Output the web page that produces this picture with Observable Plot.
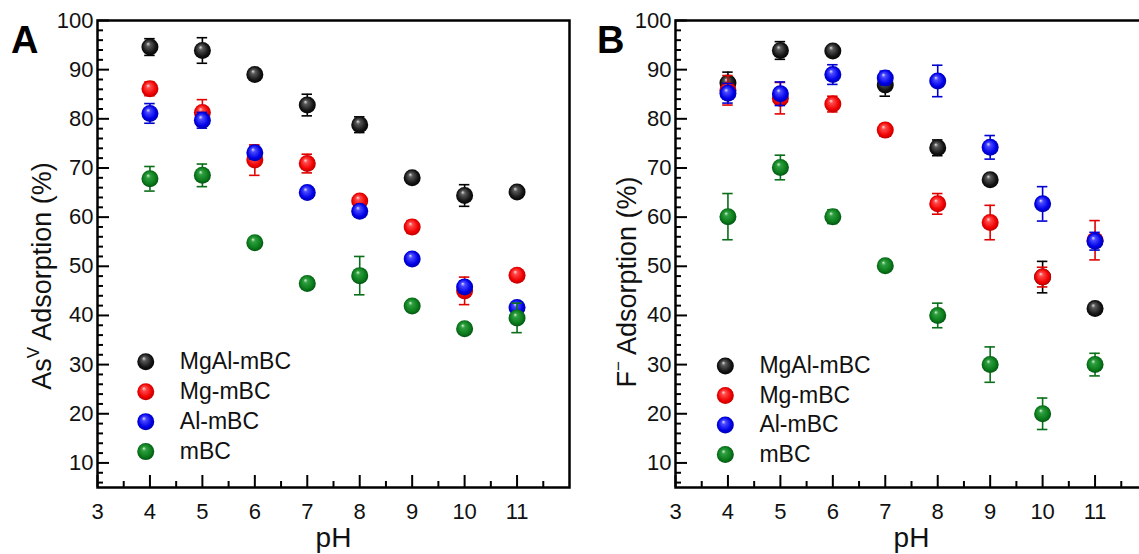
<!DOCTYPE html>
<html><head><meta charset="utf-8">
<script src="https://cdn.jsdelivr.net/npm/d3@7"></script>
<script src="https://cdn.jsdelivr.net/npm/@observablehq/plot@0.6"></script>
<style>
html,body{margin:0;padding:0;background:#fff;overflow:hidden;width:1139px;height:554px}
#wrap{display:flex;flex-wrap:nowrap;width:1139px;height:554px;overflow:hidden}
#wrap>div{flex:none}
svg{display:block}
</style></head><body>
<svg id="defs" width="0" height="0" style="position:absolute"><defs></defs></svg>
<div id="wrap"><div id="a"></div><div id="b"></div></div>
<script>
// ---- data ----
const pH = [4, 5, 6, 7, 8, 9, 10, 11];
const seriesNames = ["MgAl-mBC", "Mg-mBC", "Al-mBC", "mBC"];

// Panel A: As(V) adsorption (%)
const asMgAl    = [94.6, 93.9, 89.0, 82.8, 78.8, 68.0, 64.4, 65.1];
const asMgAlErr = [1.7, 2.6, 0.6, 2.2, 1.6, 0.6, 2.2, 0.5];
const asMg      = [86.1, 81.3, 71.6, 70.9, 63.3, 58.0, 45.0, 48.2];
const asMgErr   = [1.4, 2.6, 3.1, 1.9, 0.6, 1.3, 2.8, 0.6];
const asAl      = [81.1, 79.7, 73.1, 65.0, 61.2, 51.5, 45.8, 41.6];
const asAlErr   = [2.0, 1.6, 1.3, 0.6, 0.8, 0.6, 1.2, 0.6];
const asBC      = [67.8, 68.5, 54.8, 46.5, 48.1, 41.9, 37.3, 39.5];
const asBCErr   = [2.5, 2.3, 0.6, 1.0, 3.9, 0.7, 0.7, 3.0];

// Panel B: F- adsorption (%)
const fMgAl    = [87.3, 93.9, 93.8, 86.9, 74.1, 67.6, 47.8, 41.4];
const fMgAlErr = [2.2, 1.8, 0.6, 2.3, 1.6, 0.8, 3.2, 0.6];
const fMg      = [85.8, 84.2, 83.0, 77.7, 62.7, 58.9, 47.8, 55.3];
const fMgErr   = [3.0, 3.2, 1.6, 1.2, 2.1, 3.5, 2.0, 4.0];
const fAl      = [85.2, 85.1, 89.0, 88.3, 87.7, 74.2, 62.7, 55.1];
const fAlErr   = [2.0, 2.4, 2.0, 1.4, 3.2, 2.4, 3.5, 1.8];
const fBC      = [60.1, 70.1, 60.1, 50.1, 40.0, 30.0, 20.0, 30.0];
const fBCErr   = [4.7, 2.5, 1.4, 0.6, 2.5, 3.6, 3.2, 2.3];

// ticks
const yMajorTicks = [10, 20, 30, 40, 50, 60, 70, 80, 90, 100];
const yMinorTicks = [6, 8, 12, 14, 16, 18, 22, 24, 26, 28, 32, 34, 36, 38, 42, 44, 46, 48, 52, 54, 56, 58, 62, 64, 66, 68, 72, 74, 76, 78, 82, 84, 86, 88, 92, 94, 96, 98];
const xMajorTicks = [3, 4, 5, 6, 7, 8, 9, 10, 11];
const xMinorTicks = [3.5, 4.5, 5.5, 6.5, 7.5, 8.5, 9.5, 10.5, 11.5];

// ---- styles ----
const barColors = ["#000000", "#e00000", "#0000d0", "#0a6e1a"];
const sphereStops = [
  ["#e0e0e0", "#5a5a5a", "#151515", "#000000"],
  ["#ffe0e0", "#ff4a4a", "#f00000", "#b00000"],
  ["#e0e0ff", "#4a4aff", "#0000e8", "#00009a"],
  ["#d8f0d8", "#2fa040", "#0a7a1a", "#004a10"]
];
const FONT = "'Liberation Sans', Arial, Helvetica, sans-serif";

// gradients
const defs = d3.select("#defs defs");
sphereStops.forEach((st, i) => {
  const g = defs.append("radialGradient").attr("id", "sph" + i)
    .attr("cx", "50%").attr("cy", "50%").attr("r", "55%").attr("fx", "38%").attr("fy", "30%");
  [[0, st[0]], [0.22, st[1]], [0.7, st[2]], [1, st[3]]].forEach(([o, c]) =>
    g.append("stop").attr("offset", o).attr("stop-color", c));
});

function panel(el, cfg) {
  const marks = [];
  marks.push(Plot.axisY(yMinorTicks, {tickSize: -6, tickFormat: () => "", strokeWidth: 2, label: null}));
  marks.push(Plot.axisY(yMajorTicks, {tickSize: -12, tickFormat: () => "", strokeWidth: 2, label: null}));
  marks.push(Plot.axisY(yMajorTicks, {tickSize: 0, tickPadding: 4, fontSize: 22, fill: "#111", label: null}));
  marks.push(Plot.axisX(xMinorTicks, {tickSize: -6, tickFormat: () => "", strokeWidth: 2, label: null}));
  marks.push(Plot.axisX(xMajorTicks, {tickSize: -12, tickFormat: () => "", strokeWidth: 2, label: null}));
  marks.push(Plot.axisX(xMajorTicks, {tickSize: 0, tickPadding: 16, fontSize: 22, fill: "#111", label: null}));
  marks.push(Plot.frame({stroke: "#000", strokeWidth: 2.5}));

  const capHalf = 0.1;
  cfg.values.forEach((vals, s) => {
    const rows = vals.map((v, i) => ({pH: pH[i], v, e: cfg.errs[s][i]}));
    marks.push(Plot.ruleX(rows, {x: "pH", y1: d => d.v - d.e, y2: d => d.v + d.e, stroke: barColors[s], strokeWidth: 1.6}));
    marks.push(Plot.ruleY(rows, {y: d => d.v + d.e, x1: d => d.pH - capHalf, x2: d => d.pH + capHalf, stroke: barColors[s], strokeWidth: 1.6}));
    marks.push(Plot.ruleY(rows, {y: d => d.v - d.e, x1: d => d.pH - capHalf, x2: d => d.pH + capHalf, stroke: barColors[s], strokeWidth: 1.6}));
    marks.push(Plot.dot(rows, {x: "pH", y: "v", r: 8.5, fill: `url(#sph${s})`, stroke: "none"}));
  });

  // legend (inside frame)
  const leg = seriesNames.map((name, i) => ({name, i, y: cfg.legendTop - i * cfg.legendStep}));
  leg.forEach((d) => {
    marks.push(Plot.dot([d], {x: () => cfg.legendX, y: "y", r: 8.5, fill: `url(#sph${d.i})`, stroke: "none"}));
  });
  marks.push(Plot.text(leg, {x: () => cfg.legendX + 0.65, y: "y", text: "name", textAnchor: "start", fontSize: 23, fill: "#111"}));

  marks.push(Plot.text(["pH"], {frameAnchor: "bottom", dy: 59, fontSize: 28, fill: "#111"}));

  const svg = Plot.plot({
    width: cfg.width, height: 554,
    marginLeft: cfg.marginLeft, marginRight: cfg.marginRight, marginTop: 20, marginBottom: 67,
    x: {domain: [3, 12], label: null},
    y: {domain: [5, 100], label: null},
    style: {fontFamily: FONT, background: "transparent", overflow: "visible", color: "#000"},
    marks
  });
  const sel = d3.select(svg);
  // y title with superscript
  const t = sel.append("text")
    .attr("transform", `translate(${cfg.titleX},${cfg.titleY}) rotate(-90)`)
    .attr("text-anchor", "middle").attr("font-family", FONT).attr("font-size", 27).attr("fill", "#111");
  t.append("tspan").text(cfg.titleMain);
  t.append("tspan").attr("font-size", 17).attr("dy", -12).text(cfg.titleSup);
  t.append("tspan").attr("dy", 12).text(" Adsorption (%)");
  // panel letter
  sel.append("text").attr("x", cfg.letterX).attr("y", 53).attr("text-anchor", "start")
    .attr("font-family", FONT).attr("font-weight", "bold").attr("font-size", 38).attr("fill", "#000")
    .text(cfg.letter);
  document.getElementById(el).append(svg);
}

panel("a", {
  values: [asMgAl, asMg, asAl, asBC], errs: [asMgAlErr, asMgErr, asAlErr, asBCErr],
  width: 570, marginLeft: 97, marginRight: 1,
  legendX: 3.92, legendTop: 30.6, legendStep: 6.1,
  titleMain: "As", titleSup: "V", titleX: 51, titleY: 276, letter: "A", letterX: 11
});
panel("b", {
  values: [fMgAl, fMg, fAl, fBC], errs: [fMgAlErr, fMgErr, fAlErr, fBCErr],
  width: 580, marginLeft: 105, marginRight: 3,
  legendX: 3.95, legendTop: 29.7, legendStep: 6.0,
  titleMain: "F", titleSup: "\u2212", titleX: 66, titleY: 282, letter: "B", letterX: 27
});
</script>
</body></html>
